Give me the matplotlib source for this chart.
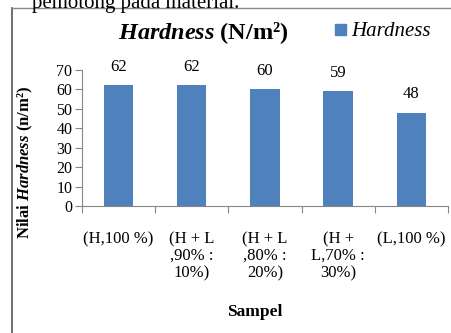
import matplotlib.pyplot as plt
from matplotlib.lines import Line2D
from matplotlib.patches import Rectangle

categories = ["(H,100 %)", "(H + L\n,90% :\n10%)", "(H + L\n,80% :\n20%)",
              "(H +\nL,70% :\n30%)", "(L,100 %)"]
values = [62, 62, 60, 59, 48]
yticks = [0, 10, 20, 30, 40, 50, 60, 70]

plt.rcParams['font.family'] = ['Liberation Serif', 'DejaVu Serif']
plt.rcParams['mathtext.fontset'] = 'custom'
plt.rcParams['mathtext.rm'] = 'Liberation Serif'
plt.rcParams['mathtext.it'] = 'Liberation Serif:italic'
plt.rcParams['mathtext.bf'] = 'Liberation Serif:bold'
plt.rcParams['mathtext.bfit'] = 'Liberation Serif:bold:italic'

blue = '#4F81BD'
grey = '#868686'

fig = plt.figure(figsize=(4.51, 3.33), dpi=100)
ax = fig.add_axes([0.182, 0.381, 0.811, 0.409])

x = range(len(categories))
bars = ax.bar(x, values, width=0.4, color=blue)
for b, v in zip(bars, values):
    ax.text(b.get_x() + b.get_width() / 2, v + 5.5, str(v), ha='center',
            va='bottom', fontsize=12)

ax.set_xlim(-0.5, len(categories) - 0.5)
ax.set_ylim(0, 70)
ax.set_yticks(yticks)
ax.set_yticklabels([str(t) for t in yticks], fontsize=11.5)
ax.set_xticks([i + 0.5 for i in range(-1, len(categories))], minor=False)
ax.set_xticklabels([])
ax.set_xticks(list(x), minor=True)
ax.set_xticklabels(categories, minor=True, fontsize=12, linespacing=1.08,
                   va='top', ha='center')
ax.tick_params(axis='x', which='minor', length=0, pad=18)
ax.tick_params(axis='x', which='major', length=5, color=grey, direction='out')
ax.tick_params(axis='y', length=5, color=grey, pad=2)
for s in ['top', 'right']:
    ax.spines[s].set_visible(False)
for s in ['left', 'bottom']:
    ax.spines[s].set_color(grey)

ax.set_ylabel(r'Nilai $\mathbfit{Hardness}$ (n/m²)', fontsize=12,
              fontweight='bold')
ax.yaxis.set_label_coords(-0.128, 0.32)
fig.text(0.565, 0.063, 'Sampel', ha='center', va='center', fontsize=12.5,
         fontweight='bold')

fig.text(0.45, 0.9, r'$\mathbfit{Hardness}$ (N/m²)', ha='center',
         va='center', fontsize=17.5, fontweight='bold')

fig.patches.append(Rectangle((0.743, 0.895), 0.024, 0.033, color=blue,
                             transform=fig.transFigure))
fig.text(0.779, 0.906, 'Hardness', ha='left', va='center', fontsize=15,
         style='italic')

fig.text(0.07, 0.99, 'pemotong pada material.', ha='left', va='center',
         fontsize=15)
fig.add_artist(Line2D([0.027, 0.027], [0, 0.976], color='#555555', lw=1.2))
fig.add_artist(Line2D([0.027, 1], [0.976, 0.976], color='#888888', lw=1))

fig.savefig('out.png', dpi=100)
